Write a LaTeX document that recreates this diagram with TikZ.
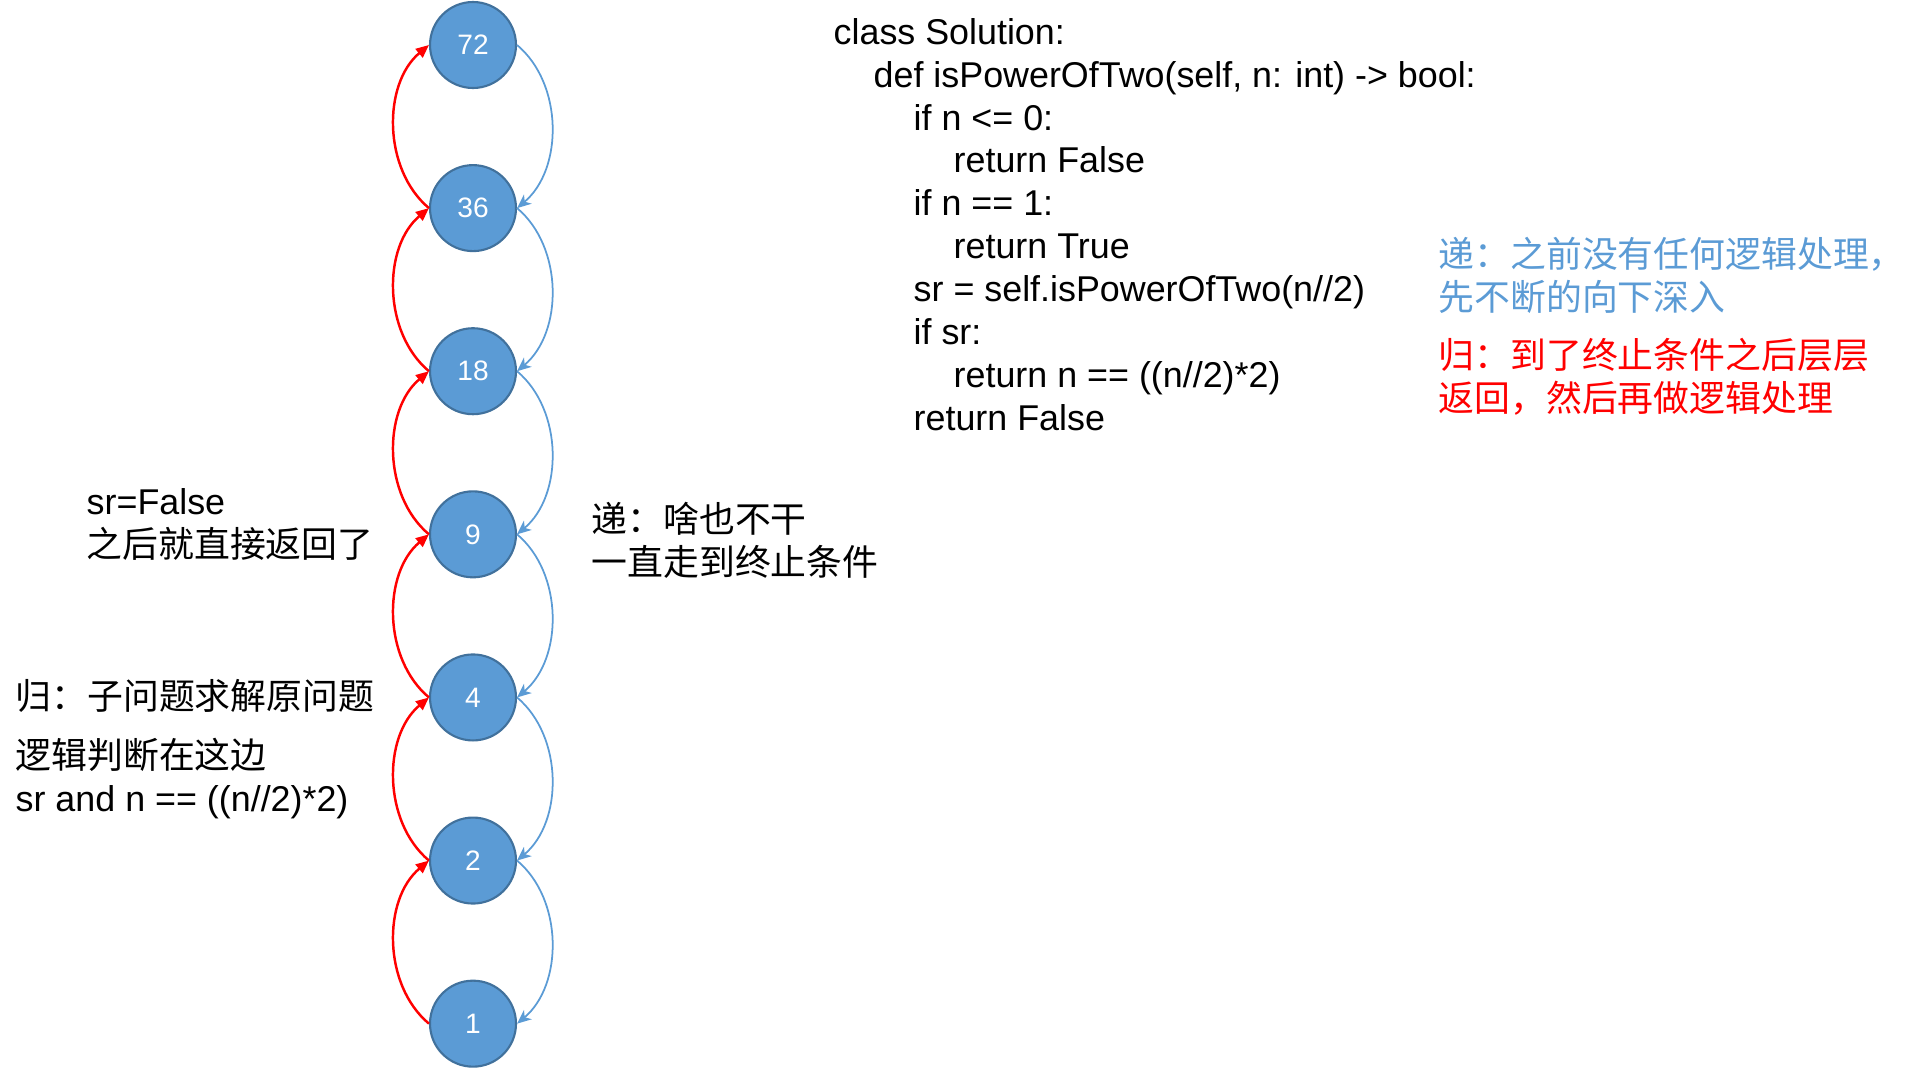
\documentclass[tikz,border=0pt]{standalone}
\usepackage{fontspec}
\setmainfont{Liberation Sans}
\newfontfamily\cjk{Noto Sans CJK SC}
\usetikzlibrary{arrows.meta, positioning}
\definecolor{nodeblue}{HTML}{5B9BD5}
\definecolor{nodeedge}{HTML}{41719C}
\definecolor{recred}{HTML}{FF0000}

\begin{document}
\begin{tikzpicture}[
    node distance=0.75cm,
    every node/.style={font=\fontsize{10.2}{12.2}\selectfont, align=left, inner sep=0pt},
    num/.style={circle, draw=nodeedge, line width=0.6pt, fill=nodeblue, minimum size=0.86cm, text=white, font=\fontsize{8}{9.6}\selectfont},
    note/.style={anchor=west},
    godown/.style={-{Stealth[length=1.4mm, width=1.2mm, inset=0.4mm]}, nodeblue, line width=0.5pt},
    goup/.style={-{Triangle[length=1.3mm, width=1.1mm]}, recred, line width=0.7pt}
]
    \useasboundingbox (0,0) rectangle (19.2,-10.68);

    % recursion chain
    \node[num] (n72) at (4.73,-0.45) {72};
    \node[num, below=of n72] (n36) {36};
    \node[num, below=of n36] (n18) {18};
    \node[num, below=of n18] (n9) {9};
    \node[num, below=of n9] (n4) {4};
    \node[num, below=of n4] (n2) {2};
    \node[num, below=of n2] (n1) {1};

    % calls down (right), returns up (left)
    \foreach \a/\b in {n72/n36, n36/n18, n18/n9, n9/n4, n4/n2, n2/n1} {
        \draw[godown] (\a.east) to[out=-40, in=40, looseness=0.95] (\b.east);
        \draw[goup] (\b.west) to[out=140, in=220, looseness=0.95] (\a.west);
    }

    % code
    \node[note] (code) at (8.33,-2.245) {class Solution:\\
        \hspace*{4mm}def isPowerOfTwo(self, n: int) -> bool:\\
        \hspace*{8mm}if n <= 0:\\
        \hspace*{12mm}return False\\
        \hspace*{8mm}if n == 1:\\
        \hspace*{12mm}return True\\
        \hspace*{8mm}sr = self.isPowerOfTwo(n//2)\\
        \hspace*{8mm}if sr:\\
        \hspace*{12mm}return n == ((n//2)*2)\\
        \hspace*{8mm}return False};

    % notes
    \node[note, text=nodeblue] (dive) at (14.38,-2.755) {\cjk 递：之前没有任何逻辑处理，\\ \cjk 先不断的向下深入};
    \node[note, text=recred] (back) at (14.38,-3.77) {\cjk 归：到了终止条件之后层层\\ \cjk 返回，然后再做逻辑处理};
    \node[note] (nothing) at (5.91,-5.405) {\cjk 递：啥也不干\\ \cjk 一直走到终止条件};
    \node[note] (srfalse) at (0.86,-5.245) {sr=False\\ \cjk 之后就直接返回了};
    \node[note] (solve) at (0.15,-6.96) {\cjk 归：子问题求解原问题};
    \node[note] (logic) at (0.15,-7.785) {\cjk 逻辑判断在这边\\ sr and n == ((n//2)*2)};

\end{tikzpicture}
\end{document}
